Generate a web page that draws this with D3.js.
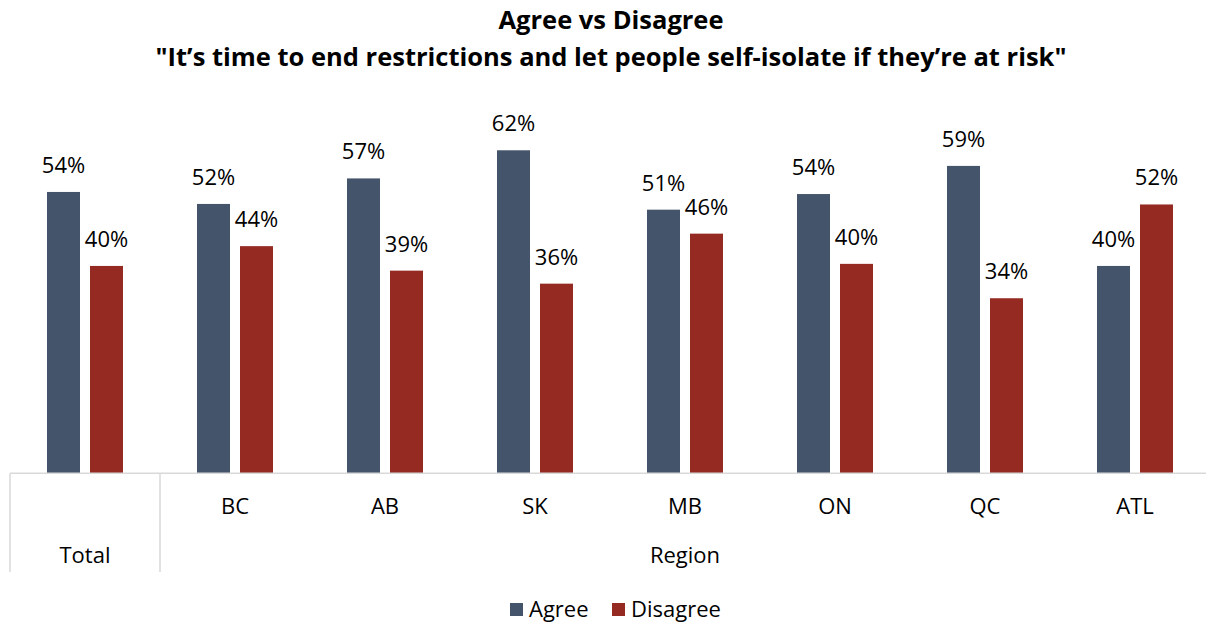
<!DOCTYPE html>
<html><head><meta charset="utf-8">
<script src="https://cdn.jsdelivr.net/npm/d3@7"></script>
<style>body{margin:0;background:#fff;} svg{display:block;} text{font-family:"Open Sans",sans-serif;fill:#000;}</style>
</head><body>
<svg id="c" width="1206" height="623"></svg>
<script>
const categories = ["Total","BC","AB","SK","MB","ON","QC","ATL"];
const agree = [54, 51.7, 56.6, 62, 50.6, 53.6, 59, 39.8];
const disagree = [39.8, 43.6, 38.9, 36.4, 46, 40.2, 33.6, 51.6];
const seriesNames = ["Agree","Disagree"];
const colors = ["#44546A","#952A22"];
const titleLines = ["Agree vs Disagree","\"It’s time to end restrictions and let people self-isolate if they’re at risk\""];
const groupLabels = [{name:"Total", from:0, to:0},{name:"Region", from:1, to:7}];

const svg = d3.select("#c");
const left = 10, right = 1210, base = 473.3;
const x = d3.scaleBand().domain(categories).range([left,right]).paddingInner(0).paddingOuter(0);
const y = d3.scaleLinear().domain([0,70]).range([base,base-70*5.21]);
const barW = 33, gap = 10;

// title
svg.selectAll("text.title").data(titleLines).join("text")
  .attr("class","title").attr("x",611).attr("y",(d,i)=>29+i*37)
  .attr("text-anchor","middle").style("font-weight","bold").style("font-size","25.5px").text(d=>d);

const series = [agree, disagree];
series.forEach((vals,si)=>{
  const g = svg.append("g");
  g.selectAll("rect").data(categories).join("rect")
    .attr("x",c=>x(c)+x.bandwidth()/2 - (barW+gap/2) + si*(barW+gap))
    .attr("y",(c,i)=>y(vals[i]))
    .attr("width",barW)
    .attr("height",(c,i)=>base-y(vals[i]))
    .attr("fill",colors[si]);
  g.selectAll("text").data(categories).join("text")
    .attr("x",c=>x(c)+x.bandwidth()/2 - (barW+gap/2) + si*(barW+gap) + barW/2)
    .attr("y",(c,i)=>y(vals[i])-19)
    .attr("text-anchor","middle").style("font-size","22px")
    .text((c,i)=>Math.round(vals[i])+"%");
});

// axis
const ax = svg.append("g").attr("stroke","#d9d9d9").attr("stroke-width",1.5);
ax.append("line").attr("x1",left).attr("x2",right).attr("y1",base).attr("y2",base);
[left, x(categories[1]), right].forEach(px=>{
  ax.append("line").attr("x1",px).attr("x2",px).attr("y1",base).attr("y2",572);
});
svg.selectAll("text.cat").data(categories.slice(1)).join("text").attr("class","cat")
  .attr("x",c=>x(c)+x.bandwidth()/2).attr("y",514).attr("text-anchor","middle")
  .style("font-size","22px").text(d=>d);
svg.selectAll("text.grp").data(groupLabels).join("text").attr("class","grp")
  .attr("x",d=>(x(categories[d.from])+x(categories[d.to])+x.bandwidth())/2).attr("y",563)
  .attr("text-anchor","middle").style("font-size","22px").text(d=>d.name);

// legend
const lg = svg.append("g");
const lx = [510, 612];
seriesNames.forEach((n,i)=>{
  lg.append("rect").attr("x",lx[i]).attr("y",603).attr("width",13).attr("height",13).attr("fill",colors[i]);
  lg.append("text").attr("x",lx[i]+19).attr("y",617).style("font-size","22px").text(n);
});
</script>
</body></html>
